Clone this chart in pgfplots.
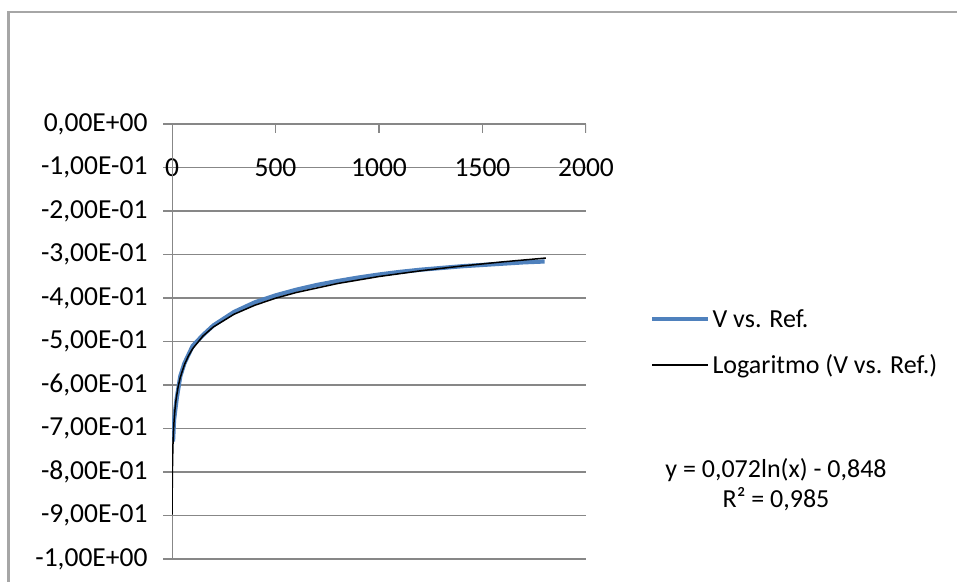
\documentclass[border=0pt]{standalone}
\usepackage{pgfplots}
\pgfplotsset{compat=1.18}
\usepackage{fontspec}
\setmainfont{Carlito}
\definecolor{xlblue}{HTML}{4F81BD}
\definecolor{gridgray}{HTML}{878787}
\definecolor{framegray}{HTML}{A6A6A6}
\begin{document}
\begin{tikzpicture}[x=1pt,y=1pt,font=\fontsize{26}{31}\selectfont]
\useasboundingbox (0,0) rectangle (957,-581);
\draw[framegray, line width=2.2pt] (8.5,-600) -- (8.5,-12) -- (980,-12);
\begin{axis}[
  at={(172pt,-559pt)}, anchor=south west,
  scale only axis, width=414pt, height=435pt,
  xmin=0, xmax=2000, ymin=-1, ymax=0,
  axis line style={draw=none},
  ytick={-1,-0.9,-0.8,-0.7,-0.6,-0.5,-0.4,-0.3,-0.2,-0.1,0},
  yticklabels={{-1,00E+00},{-9,00E-01},{-8,00E-01},{-7,00E-01},{-6,00E-01},{-5,00E-01},{-4,00E-01},{-3,00E-01},{-2,00E-01},{-1,00E-01},{0,00E+00}},
  ymajorgrids, major grid style={gridgray, line width=1.3pt},
  ytick pos=left, tick align=outside, major tick length=9pt,
  ytick style={gridgray, line width=1.3pt},
  yticklabel style={xshift=-12pt},
  xtick={0,500,1000,1500,2000},
  xticklabels={0,500,1000,1500,2000},
  xtick style={draw=none},
  xticklabel pos=upper,
  xticklabel style={anchor=center, yshift=-53pt},
  tick label style={font=\fontsize{27.5}{33}\selectfont, text=black},
  /pgf/number format/assume math mode=true,
  legend style={at={(1.155,0.579)}, anchor=north west, draw=none, fill=none,
    font=\fontsize{26}{31}\selectfont, row sep=22pt, inner sep=0pt},
  legend cell align=left,
  legend image code/.code={\draw[#1] (0pt,0pt) -- (56pt,0pt);},
]
\draw[gridgray, line width=1.3pt] (axis cs:0,-1) -- (axis cs:0,0);
\pgfplotsinvokeforeach{500,1000,1500,2000}{\draw[gridgray, line width=1.3pt] (axis cs:#1,0) -- ++(0pt,-9pt);}
\addplot[xlblue, line width=4.2pt, line join=round] coordinates {
(5,-0.73) (10,-0.68) (23,-0.63) (40,-0.58) (60,-0.55) (100,-0.51) (150,-0.485)
(200,-0.463) (300,-0.432) (400,-0.41) (500,-0.394) (600,-0.381) (700,-0.37)
(800,-0.361) (900,-0.353) (1000,-0.346) (1100,-0.34) (1200,-0.335) (1300,-0.331)
(1400,-0.327) (1500,-0.324) (1600,-0.321) (1700,-0.318) (1800,-0.316)};
\addlegendentry{V vs. Ref.}
\addplot[black, line width=1.5pt, line join=round] coordinates {
(0.5,-0.8979) (0.7,-0.8737) (1,-0.848) (1.5,-0.8188) (2,-0.7981) (3,-0.7689)
(5,-0.7321) (7,-0.7079) (10,-0.6822) (15,-0.6530) (20,-0.6323) (30,-0.6031)
(40,-0.5824) (60,-0.5532) (80,-0.5325) (100,-0.5164) (150,-0.4872) (200,-0.4665)
(300,-0.4373) (400,-0.4166) (500,-0.4005) (600,-0.3874) (800,-0.3667)
(1000,-0.3506) (1200,-0.3375) (1400,-0.3264) (1600,-0.3168) (1806,-0.3081)};
\addlegendentry{Logaritmo (V vs. Ref.)}
\end{axis}
\node at (776,-470) {y = 0,072ln(x) - 0,848};
\node at (776,-499) {R² = 0,985};
\end{tikzpicture}
\end{document}
